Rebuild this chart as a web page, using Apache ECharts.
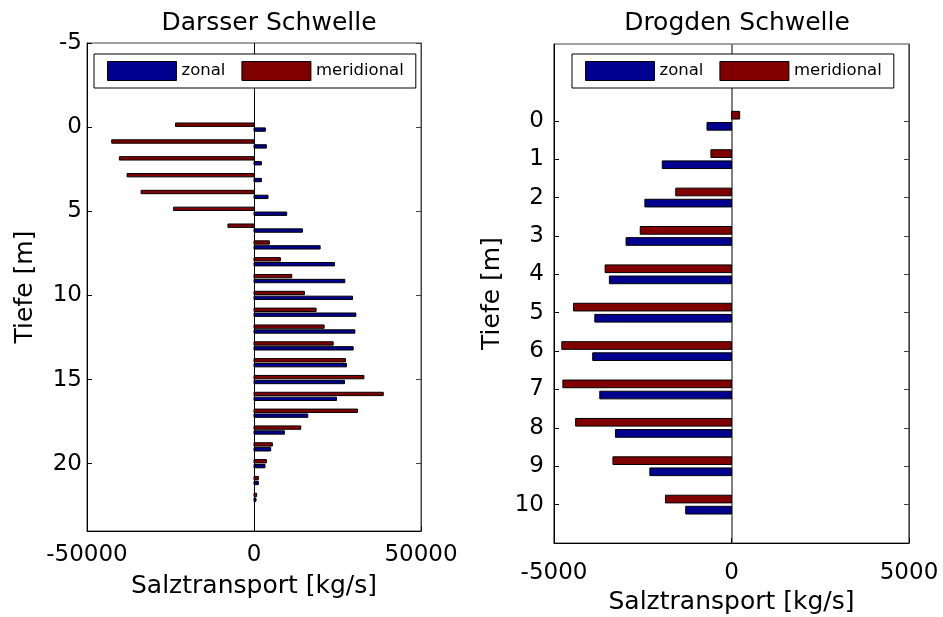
<!DOCTYPE html>
<html>
<head>
<meta charset="utf-8">
<script src="https://cdn.jsdelivr.net/npm/echarts@6/dist/echarts.min.js"></script>
<style>
html,body{margin:0;padding:0;background:#fff;}
#chart{width:943px;height:617px;}
</style>
</head>
<body>
<div id="chart"></div>
<script>
// ---- Data ----
const darssDepth = [0,1,2,3,4,5,6,7,8,9,10,11,12,13,14,15,16,17,18,19,20,21,22];
const darssZonal = [3400,3700,2200,2200,4200,9800,14500,19800,24100,27200,29500,30500,30200,29700,27700,27100,24700,16100,9100,5000,3300,1300,600];
const darssMeridional = [-23500,-42600,-40300,-38000,-33800,-24100,-7800,4600,7900,11300,15100,18600,21000,23700,27400,32900,38700,31000,14000,5500,3700,1300,800];

const drogDepth = [0,1,2,3,4,5,6,7,8,9,10];
const drogZonal = [-690,-1950,-2440,-2970,-3440,-3850,-3910,-3710,-3270,-2300,-1290];
const drogMeridional = [230,-580,-1570,-2570,-3560,-4450,-4780,-4750,-4390,-3340,-1860];

const darssYTicks = [-5,0,5,10,15,20];
const drogYTicks = [0,1,2,3,4,5,6,7,8,9,10];
const darssXTicks = [-50000,0,50000];
const drogXTicks = [-5000,0,5000];

const titles = ['Darsser Schwelle','Drogden Schwelle'];
const seriesNames = ['zonal','meridional'];
const colZonal = '#00008F';
const colMerid = '#800000';
const FONT = 'DejaVu Sans';

function pairs(vals, depths){ return vals.map((v,i)=>[v, depths[i]]); }

function barRenderer(offset, thick){
  return function(params, api){
    const v = api.value(0), d = api.value(1);
    const p1 = api.coord([0, d + offset - thick/2]);
    const p2 = api.coord([v, d + offset + thick/2]);
    return {
      type:'rect',
      shape:{x:Math.min(p1[0],p2[0]), y:Math.min(p1[1],p2[1]),
             width:Math.abs(p2[0]-p1[0]), height:Math.abs(p2[1]-p1[1])},
      style:{fill:api.visual('color'), stroke:'#000', lineWidth:1}
    };
  };
}

const chart = echarts.init(document.getElementById('chart'), null, {renderer:'canvas'});

function xAxisCfg(gridIndex, min, max, ticks, zeroColor, zeroWidth, labelMargin, nameGap){
  return {
    type:'value', gridIndex, min, max, interval:max,
    name:'Salztransport [kg/s]', nameLocation:'middle', nameGap,
    nameTextStyle:{fontFamily:FONT, fontSize:25, color:'#000'},
    axisLine:{show:true, onZero:false, lineStyle:{color:'#000', width:1}},
    axisTick:{show:true, inside:true, length:5, customValues:ticks, lineStyle:{color:'#000'}},
    axisLabel:{fontFamily:FONT, fontSize:23, color:'#000', margin:labelMargin, customValues:ticks,
               formatter:(v)=>String(v)},
    splitLine:{show:true, lineStyle:{color:zeroColor, width:zeroWidth, type:'solid'}}
  };
}
function yAxisCfg(gridIndex, min, max, ticks, nameGap, labelMargin){
  return {
    type:'value', gridIndex, min, max, inverse:true,
    name:'Tiefe [m]', nameLocation:'middle', nameGap,
    nameTextStyle:{fontFamily:FONT, fontSize:25, color:'#000'},
    axisLine:{show:true, onZero:false, lineStyle:{color:'#000', width:1}},
    axisTick:{show:true, inside:true, length:5, customValues:ticks, lineStyle:{color:'#000'}},
    axisLabel:{fontFamily:FONT, fontSize:23, color:'#000', margin:labelMargin, customValues:ticks},
    splitLine:{show:false}
  };
}
function yMirror(gridIndex, min, max, ticks){
  return {
    type:'value', gridIndex, min, max, inverse:true, position:'right',
    axisLine:{show:true, onZero:false, lineStyle:{color:'#444', width:1}},
    axisTick:{show:true, inside:true, length:5, customValues:ticks, lineStyle:{color:'#444'}},
    axisLabel:{show:false},
    splitLine:{show:false}
  };
}

const OFF = 0.145, TH = 0.2;

const legendBase = {
  orient:'horizontal', data:seriesNames,
  itemWidth:69, itemHeight:19, itemGap:16, padding:[7,12,7,13],
  icon:'rect', borderColor:'#000', borderWidth:1, backgroundColor:'#fff',
  itemStyle:{borderColor:'#000', borderWidth:1},
  textStyle:{fontFamily:FONT, fontSize:16.5, color:'#000'}, z:10
};

const option = {
  backgroundColor:'#fff',
  animation:false,
  title:[
    {text:titles[0], left:264, top:6, textAlign:'center',
     textStyle:{fontFamily:FONT, fontSize:25, fontWeight:'normal', color:'#000'}},
    {text:titles[1], left:732, top:6, textAlign:'center',
     textStyle:{fontFamily:FONT, fontSize:25, fontWeight:'normal', color:'#000'}}
  ],
  legend:[
    Object.assign({}, legendBase, {left:94, top:54}),
    Object.assign({}, legendBase, {left:572, top:54})
  ],
  grid:[
    {left:87, top:43, width:334, height:488, show:true, borderColor:'#444', borderWidth:1,
     backgroundColor:'#fff', containLabel:false, outerBoundsMode:'none'},
    {left:554, top:44, width:355, height:499, show:true, borderColor:'#444', borderWidth:1,
     backgroundColor:'#fff', containLabel:false, outerBoundsMode:'none'}
  ],
  xAxis:[
    xAxisCfg(0, -50000, 50000, darssXTicks, '#000', 1, 13, 43),
    xAxisCfg(1, -5000, 5000, drogXTicks, '#808080', 2, 19, 47)
  ],
  yAxis:[
    yAxisCfg(0, -5, 24, darssYTicks, 49, 5),
    yAxisCfg(1, -2, 11, drogYTicks, 49, 10),
    yMirror(0, -5, 24, darssYTicks),
    yMirror(1, -2, 11, drogYTicks)
  ],
  series:[
    {type:'custom', name:'zonal', xAxisIndex:0, yAxisIndex:0, itemStyle:{color:colZonal},
     renderItem:barRenderer(OFF, TH), encode:{x:0, y:1}, data:pairs(darssZonal, darssDepth)},
    {type:'custom', name:'meridional', xAxisIndex:0, yAxisIndex:0, itemStyle:{color:colMerid},
     renderItem:barRenderer(-OFF, TH), encode:{x:0, y:1}, data:pairs(darssMeridional, darssDepth)},
    {type:'custom', name:'zonal', xAxisIndex:1, yAxisIndex:1, itemStyle:{color:colZonal},
     renderItem:barRenderer(OFF, TH), encode:{x:0, y:1}, data:pairs(drogZonal, drogDepth)},
    {type:'custom', name:'meridional', xAxisIndex:1, yAxisIndex:1, itemStyle:{color:colMerid},
     renderItem:barRenderer(-OFF, TH), encode:{x:0, y:1}, data:pairs(drogMeridional, drogDepth)}
  ]
};
chart.setOption(option);
</script>
</body>
</html>
